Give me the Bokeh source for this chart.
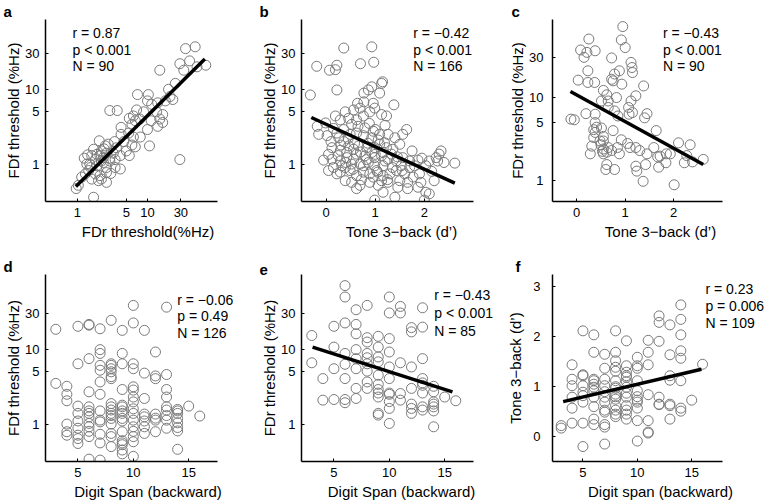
import math
from bokeh.plotting import figure
from bokeh.layouts import gridplot
from bokeh.models import Label, FixedTicker, NumeralTickFormatter, Range1d
from bokeh.embed import file_html
from bokeh.resources import INLINE

FONT = "Liberation Sans"
CIRC = "#7a7a7a"
MINUS = "\u2212"

# ---------------- data ----------------
# a: FDr threshold (x) vs FDf threshold (y)
a_x = [48, 35, 29, 40, 33, 51, 68, 15, 25, 20, 21, 23, 18, 14, 11.5, 10, 13.5, 16.5, 15, 14,
       16.5, 11.3, 10, 7.2, 10.3, 8.8, 7, 6.3, 7.8, 6.7, 6, 5.5, 4.2, 4.2, 5.4, 6.3, 7.9, 6, 6.7, 10.7,
       5, 5.5, 2.9, 3.7, 29, 3.4, 3.6, 4.1, 3.45, 4.1, 2.9, 2.6, 2.2, 2.05, 2.5, 2.1, 1.9, 1.8, 1.6, 1.4,
       1.5, 1.9, 2.2, 2.6, 1.45, 1.3, 1.8, 2.1, 2.2, 2.6, 2.0, 1.15, 1.6, 0.96, 1.03, 1.7, 2.35, 2.9, 3.25, 2.75,
       1.7, 2.35, 1.36, 2.6, 3.45, 1.25, 1.55, 2.4, 3.0, 4.6]
a_y = [37, 35, 22, 24, 18, 20, 21, 18, 12, 10, 8, 7.3, 7, 6.6, 6.3, 7, 5, 4.6, 4, 3.2,
       3.6, 3.8, 2.9, 8.5, 8.5, 5, 5.3, 4.4, 4, 3.8, 3.4, 4.1, 3.1, 2.5, 2.6, 2.3, 2.3, 1.8, 1.7, 1.75,
       1.5, 1.3, 5.2, 5.2, 1.15, 2, 1.65, 1.3, 1.15, 0.86, 1.2, 1.4, 1.5, 2.05, 1.75, 1.3, 1.35, 1.15, 1.3, 1.33,
       1.0, 0.95, 1.1, 0.9, 0.82, 0.74, 0.74, 0.7, 0.63, 0.57, 0.6, 0.67, 0.63, 0.47, 0.52, 0.36, 1.05, 1.1, 1.4, 1.85,
       1.58, 1.22, 1.0, 0.77, 0.9, 1.2, 0.9, 1.6, 0.75, 2.0]
a_fit_x = [0.95, 66]
a_fit_y = [0.5, 25.5]

# b: Tone 3-back (x) vs FDf threshold (y)
b_x = [0.36, 0.93, -0.19, 0.07, 0.19, 0.22, 0.7, 0.97, -0.32, 0.22,
       0.86, 0.93, 1.13, 1.15, 1.09, 0.77, 1.38, 0.64, 0.77, 0.96,
       0.19, 0.39, 0.56, 0.69, 0.89, 0.99, 1.13, 1.23, 0.46, 0.29,
       0.62, 0.76, -0.01, -0.18, -0.15, 0.02, 0.26, 0.36, 0.49, 0.62,
       0.76, 0.93, 1.06, 1.19, 1.5, 1.64, 1.36, 1.23, 0.99, 0.83,
       0.66, 0.56, 0.42, 0.29, 0.12, -0.05, 0.12, 0.29, 0.42, 0.56,
       0.69, 0.86, 0.99, 1.13, 1.26, 1.43, 1.56, 1.7, 1.87, 2.03,
       2.1, 2.24, 2.34, 2.3, 2.4, 2.62, 2.27, 0.29, 0.22, 0.49,
       0.62, 0.76, 0.89, 1.03, 1.16, 1.3, 1.43, 1.6, 1.77, 1.9,
       0.52, 0.69, 0.89, 1.06, 1.26, 1.46, 1.66, 1.87, 2.03, 2.1,
       0.99, 1.4, 2.0, 1.16, 0.62,
       0.36, 0.22, 0.52, 0.79, 0.96, 1.09, 1.26, 1.4, 1.56, 1.09,
       0.93, 1.16, 1.33, 0.79, 0.62, 0.46, 0.32, 0.52, 0.76, 0.99,
       1.16, 1.53, 1.7, 0.15, 0.39, 0.05, 0.96, 1.13, 1.5, 1.66,
       1.93, 0.39,
       0.1, 0.3, 0.45, 0.58, 0.7, 0.85, 1.0, 1.2, 1.35, 1.45,
       0.55, 0.72, 0.82, 1.05, 1.25, 1.55, 1.8, 1.95, 2.15, 0.25,
       0.4, 0.65, 0.88, 1.0, 1.2, 0.15, 0.05, 1.75, 2.2]
b_y = [35.6, 37, 20.3, 18, 18.3, 21, 22, 23, 8.4, 9.8,
       9.8, 10.8, 12, 12.6, 8.9, 8.9, 6.2, 6.5, 6.8, 6.5,
       4.4, 5, 5.3, 5.6, 5, 5.6, 4.6, 4.4, 4.1, 3.9,
       3.9, 4.4, 3.55, 3.2, 2.5, 2.4, 2.25, 2.0, 2.5, 2.6,
       2.4, 2.25, 2.1, 1.93, 1.84, 2.9, 1.58, 1.66, 1.66, 1.66,
       1.75, 1.58, 1.43, 1.53, 1.66, 1.13, 1.16, 1.1, 1.22, 1.16,
       1.0, 1.05, 1.22, 1.29, 1.16, 1.1, 1.22, 1.1, 1.13, 0.95,
       1.1, 1.22, 1.5, 1.36, 1.05, 1.03, 1.1, 0.78, 0.74, 0.82,
       0.7, 0.78, 0.74, 0.82, 0.7, 0.74, 0.82, 0.74, 0.67, 0.74,
       0.57, 0.52, 0.57, 0.52, 0.57, 0.49, 0.47, 0.49, 0.42, 0.4,
       0.33, 0.36, 0.33, 0.42, 0.47,
       2.9, 2.6, 3.4, 3.05, 2.75, 2.5, 2.5, 2.25, 2.5, 1.84,
       1.43, 1.43, 1.36, 1.29, 1.36, 1.75, 0.95, 1.0, 0.95, 0.95,
       0.95, 0.95, 0.9, 0.9, 0.9, 0.82, 0.67, 0.6, 0.6, 0.57,
       0.57, 0.6,
       2.0, 1.8, 2.2, 1.9, 1.45, 1.9, 1.35, 1.1, 0.9, 1.25,
       0.85, 0.62, 1.15, 0.78, 0.62, 0.82, 0.95, 1.2, 0.8, 1.3,
       1.05, 3.2, 3.5, 2.9, 3.3, 3.0, 1.35, 1.5, 0.6]
b_fit_x = [-0.30, 2.62]
b_fit_y = [4.2, 0.556]

# c: Tone 3-back (x) vs FDr threshold (y)
c_x = [0.95, 0.25, 0.92, 1.0, 0.08, 0.21, 0.38, 0.15, 0.72, 1.12,
       1.14, 1.15, 0.88, 0.78, 0.23, 0.03, 0.23, 0.37, 0.72, 0.75,
       0.93, 1.38, 1.22, 0.82, 0.55, 0.62, 0.51, 0.65, 1.12, 1.07,
       1.15, 0.19, 0.38, 0.65, 0.78, 0.85, 1.08, 1.4, 1.45, -0.12,
       -0.05, 0.38, 0.41, 0.51, 0.35, 0.38, 0.35, 0.55, 0.55, 0.75,
       0.92, 1.64, 0.31, 0.48, 0.5, 0.55, 0.65, 0.72, 0.55, 0.53,
       0.62, 0.28, 0.88, 1.05, 1.22, 1.3, 1.45, 1.42, 1.59, 1.67,
       1.72, 1.85, 1.93, 2.1, 2.34, 2.27, 2.22, 2.39, 2.61, 1.84,
       1.69, 1.22, 1.24, 1.37, 2.01, 0.6, 0.78, 0.62, 0.84, 1.1]
c_y = [71.6, 50.7, 49.4, 40, 37.4, 35, 36.6, 30.5, 30, 26.5,
       23, 20, 21, 19.2, 21, 16.2, 15.2, 15.2, 16.6, 15.9,
       14.5, 13.8, 10.5, 10, 12.2, 10.8, 9.1, 9.1, 9.1, 7.6,
       6.6, 6.4, 6.3, 7.6, 6.9, 6, 6.3, 5.7, 6.4, 5.5,
       5.4, 5, 4.4, 4.3, 4.1, 3.8, 3.3, 3.4, 3, 4,
       3.1, 4, 2.6, 3, 2.7, 2.4, 2.5, 2.3, 2.1, 2.25,
       2.2, 2.1, 2.1, 2.8, 2.5, 2.3, 2.1, 1.56, 2.5, 1.93,
       1.97, 2.1, 2.1, 2.85, 2.7, 2.0, 1.64, 1.68, 1.8, 1.64,
       1.45, 1.49, 1.3, 0.98, 0.89, 1.36, 1.36, 1.56, 2.5, 2.5]
c_fit_x = [-0.13, 2.61]
c_fit_y = [11.8, 1.56]

# d: Digit span backward (x) vs FDf threshold (y)
d_x = ([3] * 2 + [4] * 6 + [5] * 9 + [6] * 13 + [7] * 13 + [8] * 17 + [9] * 16 + [10] * 16
       + [11] * 8 + [12] * 7 + [13] * 9 + [14] * 8 + [15] + [16])
d_y = [18.5, 3.5,
       3.2, 2.5, 2.05, 1.0, 0.79, 0.71,
       20.3, 6.4, 1.74, 1.39, 0.88, 0.71, 0.55, 0.64, 1.1,
       21.5, 21, 7.5, 2.7, 1.7, 1.39, 1.25, 1.02, 0.92, 0.68, 0.34, 0.8, 1.5,
       18.8, 9.9, 8.8, 6.1, 5.25, 3.66, 2.5, 1.13, 1.07, 0.73, 0.56, 0.33, 1.5,
       24.4, 6.4, 6.1, 5.5, 5.0, 4.3, 4.05, 1.88, 1.7, 1.54, 1.39, 1.19, 0.75, 0.68, 0.5, 1.3, 1.0,
       17.9, 8.8, 6.4, 2.9, 1.79, 1.7, 1.39, 1.19, 0.79, 0.56, 0.53, 0.45, 0.4, 1.5, 0.6, 1.1,
       38.6, 22.5, 6.4, 5.5, 3.15, 2.85, 2.3, 1.98, 1.39, 1.13, 0.92, 0.68, 0.58, 0.37, 1.6, 0.8,
       17.9, 4.8, 2.2, 1.36, 1.25, 0.92, 0.75, 1.1,
       9.2, 4.4, 4.05, 1.36, 1.13, 0.79, 1.2,
       36.6, 4.6, 2.9, 2.3, 1.7, 1.54, 1.13, 0.88, 1.3,
       1.57, 1.39, 1.19, 1.04, 0.81, 0.46, 1.5, 0.9,
       1.74,
       1.28]

# e: Digit span backward (x) vs FDr threshold (y)
e_x = ([3] * 2 + [4] * 2 + [5] * 4 + [6] * 8 + [7] * 8 + [8] * 9 + [9] * 11 + [10] * 11
       + [11] * 5 + [12] * 7 + [13] * 9 + [14] * 7 + [15] + [16])
e_y = [15.3, 6.6,
       4.06, 2.09,
       20.3, 10.7, 5.5, 2.13,
       71, 50, 22.5, 8.8, 6.3, 4.06, 2.13, 1.93,
       33.8, 21.5, 16.1, 9.9, 7.5, 5.5, 3.0, 2.2,
       38.6, 14.3, 12.5, 8.8, 7.7, 6.4, 5.1, 3.66, 3.0,
       14.9, 10.7, 7.9, 6.8, 3.4, 2.9, 2.6, 2.3, 1.39, 1.32, 4.5,
       50, 30.6, 13.9, 9.2, 5.8, 4.06, 2.6, 2.5, 1.62, 1.02, 2.0,
       37.4, 30.6, 6.6, 2.56, 2.09,
       19.5, 17.1, 5.8, 1.85, 1.62, 1.39, 3.0,
       35.9, 19.8, 7.5, 4.06, 3.55, 3.3, 2.6, 1.7, 1.54,
       3.2, 2.7, 1.98, 1.85, 1.7, 1.5, 0.92,
       2.3,
       2.05]
e_fit_x = [3.07, 15.7]
e_fit_y = [10.7, 2.7]

# f: Digit span backward (x) vs Tone 3-back d' (y)
f_x = ([3] * 2 + [4] * 6 + [5] * 9 + [6] * 11 + [7] * 12 + [8] * 15 + [9] * 13 + [10] * 11
       + [11] * 7 + [12] * 6 + [13] * 7 + [14] * 8 + [15] + [16])
f_y = [0.22, 0.17,
       1.44, 1.15, 1.02, 0.79, 0.57, 0.27,
       2.12, 1.22, 1.24, 1.02, 0.89, 0.82, 0.69, 0.27, -0.2,
       2.04, 1.69, 1.15, 1.12, 1.05, 0.99, 0.92, 0.79, 0.35, 0.24, 0.6,
       1.65, 1.37, 1.15, 1.02, 0.79, 0.69, 0.53, 0.49, 0.24, 0.19, -0.15, 0.9,
       2.12, 1.69, 1.52, 1.39, 1.31, 1.12, 0.97, 0.85, 0.75, 0.62, 0.53, 0.45, 0.4, 0.8, 1.0,
       1.92, 1.42, 1.29, 1.22, 1.19, 0.99, 0.87, 0.79, 0.62, 0.53, 0.45, 0.35, 1.1,
       1.59, 1.42, 1.37, 1.12, 0.92, 0.73, 0.69, 0.57, 0.32, -0.09, 0.8,
       1.93, 1.69, 1.44, 0.84, 0.32, 0.09, 0.07,
       2.42, 2.29, 1.91, 0.79, 0.65, 0.64,
       2.24, 1.64, 1.22, 1.13, 0.65, 0.62, 0.35,
       2.64, 2.35, 2.04, 1.72, 1.57, 1.12, 0.57, 0.51,
       0.73,
       1.45]
f_fit_x = [3.18, 15.9]
f_fit_y = [0.70, 1.35]

stats = {
    "a": ["r = 0.87", "p < 0.001", "N = 90"],
    "b": ["r = " + MINUS + "0.42", "p < 0.001", "N = 166"],
    "c": ["r = " + MINUS + "0.43", "p < 0.001", "N = 90"],
    "d": ["r = " + MINUS + "0.06", "p = 0.49", "N = 126"],
    "e": ["r = " + MINUS + "0.43", "p < 0.001", "N = 85"],
    "f": ["r = 0.23", "p = 0.006", "N = 109"],
}

thr_ticks = [1, 5, 10, 30]
dprime_ticks = [0, 1, 2]
span_ticks = [5, 10, 15]
f_yticks = [0, 1, 2, 3]

# axis limits as drawn in the reference (nominal frame 172 x 188 px)
lim_thr_x = (0.35, 100)
lim_thr_y = (0.316, 100)
lim_fdr_c = (0.56, 100)
lim_dprime = (-0.5, 3)
lim_span_de = (2.07, 17.6)
lim_span_f = (2.2, 17.8)
lim_dprime_f = (-0.5, 3.25)

NOM_W, NOM_H = 172, 188


def _interp(lo, hi, t, log):
    if log:
        return 10 ** (math.log10(lo) + (math.log10(hi) - math.log10(lo)) * t)
    return lo + (hi - lo) * t


def extend(lim, nom, new, log):
    return (lim[0], _interp(lim[0], lim[1], new / nom, log))


def panel(width, height, left, top, fw, fh, xlim, ylim, xlog, ylog, xticks, yticks,
          xlabel, ylabel, xs, ys, fitx, fity, letter, loff, lines, tx, tys,
          ylab_stand, ytick_stand):
    xr = extend(xlim, NOM_W, fw, xlog)
    yr = extend(ylim, NOM_H, fh, ylog)
    p = figure(width=width, height=height, title=letter,
               x_range=Range1d(*xr), y_range=Range1d(*yr),
               x_axis_type="log" if xlog else "linear",
               y_axis_type="log" if ylog else "linear",
               output_backend="svg", toolbar_location=None,
               min_border_left=left, min_border_top=top,
               min_border_right=width - left - fw,
               min_border_bottom=height - top - fh)
    p.title.align = "left"
    p.title.offset = loff
    p.title.standoff = 0
    p.title.text_font = FONT
    p.title.text_font_size = "15px"
    p.title.text_font_style = "bold"
    p.title.text_color = "black"

    p.xgrid.visible = False
    p.ygrid.visible = False
    p.outline_line_color = None
    p.background_fill_color = "white"
    p.border_fill_color = "white"
    for ax in (p.xaxis[0], p.yaxis[0]):
        ax.axis_line_color = "black"
        ax.axis_line_width = 1.5
        ax.major_tick_line_color = "black"
        ax.major_tick_in = 3
        ax.major_tick_out = 0
        ax.minor_tick_line_color = None
        ax.major_label_text_font = FONT
        ax.major_label_text_font_size = "13px"
        ax.major_label_text_color = "black"
        ax.axis_label_text_font = FONT
        ax.axis_label_text_font_style = "normal"
        ax.axis_label_text_color = "black"
        ax.axis_label_text_font_size = "15px"
        ax.formatter = NumeralTickFormatter(format="0")
    p.xaxis[0].ticker = FixedTicker(ticks=xticks)
    p.yaxis[0].ticker = FixedTicker(ticks=yticks)
    p.xaxis[0].bounds = xlim
    p.xaxis[0].axis_label = xlabel
    p.yaxis[0].axis_label = ylabel
    p.xaxis[0].major_label_standoff = 6
    p.xaxis[0].axis_label_standoff = 3
    p.yaxis[0].major_label_standoff = ytick_stand
    p.yaxis[0].axis_label_standoff = ylab_stand

    p.scatter(xs, ys, marker="circle", size=10, fill_color=None,
              line_color=CIRC, line_width=1)
    if fitx is not None:
        p.line(fitx, fity, line_color="black", line_width=3.5)

    x_text = _interp(xr[0], xr[1], tx / fw, xlog)
    for t, ty in zip(lines, tys):
        y_text = _interp(yr[0], yr[1], 1 - ty / fh, ylog)
        p.add_layout(Label(x=x_text, y=y_text, text=t, text_font=FONT,
                           text_font_size="14px", text_baseline="middle",
                           text_align="left", text_color="black"))
    return p


FD_F = "FDf threshold (%Hz)"
FD_R = "FDr threshold (%Hz)"
TONE = "Tone 3" + MINUS + "back (d\u2019)"

R1H, R2H = 255, 247
W1, W2, W3 = 256, 248, 264
# frame widths per column (same for both rows, grid aligns them)
F1, F2, F3 = 205, 200, 219

pa = panel(W1, R1H, 45, 18, F1, 183, lim_thr_x, lim_thr_y, True, True,
           thr_ticks, thr_ticks, "FDr threshold(%Hz)", FD_F, a_x, a_y, a_fit_x, a_fit_y,
           "a", -42, stats["a"], 27, [13.7, 30.3, 47], 0, 6)
pb = panel(W2, R1H, 45, 18, F2, 183, lim_dprime, lim_thr_y, False, True,
           dprime_ticks, thr_ticks, TONE, FD_F, b_x, b_y, b_fit_x, b_fit_y,
           "b", -42, stats["b"], 111.7, [13.7, 30.3, 47], 0, 6)
pc = panel(W3, R1H, 45, 18, F3, 183, lim_dprime, lim_fdr_c, False, True,
           dprime_ticks, thr_ticks, TONE, FD_R, c_x, c_y, c_fit_x, c_fit_y,
           "c", -41, stats["c"], 112, [13.7, 30.3, 47], 0, 9)
pd_ = panel(W1, R2H, 45, 18, F1, 188, lim_span_de, lim_thr_y, False, True,
            span_ticks, thr_ticks, "Digit Span (backward)", FD_F, d_x, d_y, None, None,
            "d", -42, stats["d"], 131.7, [25.3, 42, 58.7], 0, 6)
pe = panel(W2, R2H, 45, 18, F2, 188, lim_span_de, lim_thr_y, False, True,
           span_ticks, thr_ticks, "Digit Span (backward)", FD_R, e_x, e_y, e_fit_x, e_fit_y,
           "e", -42, stats["e"], 132.7, [20.3, 38.5, 57], 0, 6)
pf = panel(W3, R2H, 45, 18, F3, 188, lim_span_f, lim_dprime_f, False, False,
           span_ticks, f_yticks, "Digit span (backward)", TONE, f_x, f_y, f_fit_x, f_fit_y,
           "f", -37, stats["f"], 155, [14.3, 31.5, 48.7], 6, 12)

grid = gridplot([[pa, pb, pc], [pd_, pe, pf]], toolbar_location=None)

open("out.html", "w").write(file_html(grid, INLINE))
